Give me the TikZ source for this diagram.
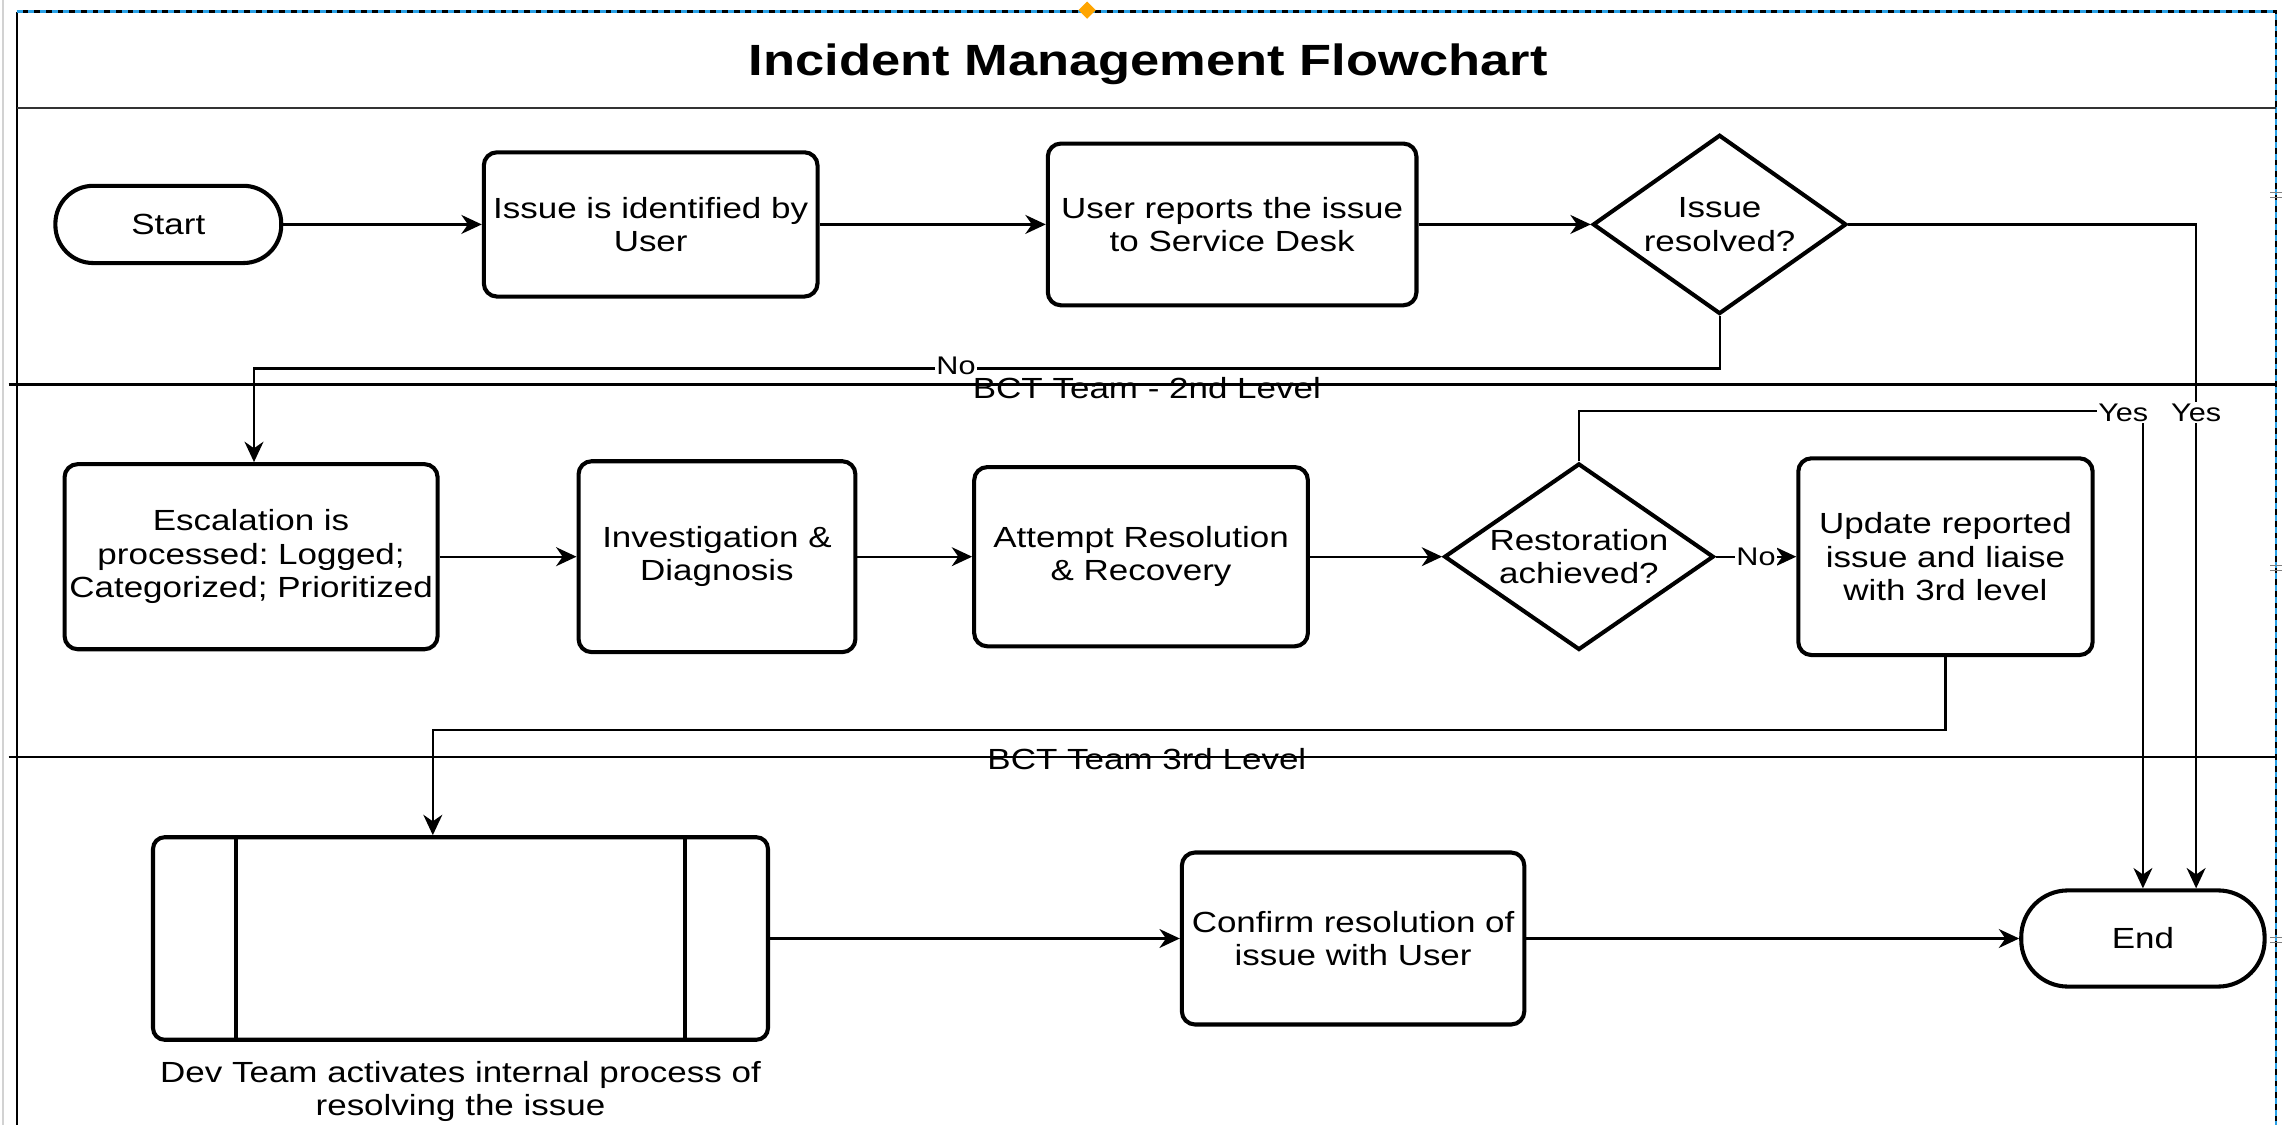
\documentclass[tikz,border=0pt]{standalone}
\usepackage{fontspec}
\setmainfont{Liberation Sans}[FakeStretch=1.2]
\usetikzlibrary{shapes.geometric,arrows.meta}
\definecolor{selblue}{RGB}{41,160,230}
\definecolor{handleorange}{RGB}{255,165,0}
\frenchspacing
\begin{document}
\begin{tikzpicture}[x=1pt,y=-1pt,
  txt/.style={font=\fontsize{20}{23}\selectfont, align=center},
  box/.style={draw, line width=2.8pt, rounded corners=9pt, inner sep=0pt, txt},
  term/.style={draw, line width=2.8pt, inner sep=0pt, txt},
  dec/.style={draw, diamond, line width=2.8pt, inner sep=0pt},
  conn/.style={line width=1.5pt, -{Stealth[length=14pt,width=13pt,inset=4.5pt]}},
  lbl/.style={fill=white, inner sep=1pt, font=\fontsize{17.5}{20}\selectfont},
  lane/.style={line width=1.9pt},
  frame/.style={line width=1.6pt}
]
\useasboundingbox (0,0) rectangle (1568,772);

% frame and lanes
\draw[gray!35, line width=1pt] (2,0) -- (2,772);
\draw[frame] (11.5,8) -- (11.5,772);
\draw[frame] (11.5,8) -- (1562,8) -- (1562,772);
\draw[selblue, line width=1.6pt, dash pattern=on 4pt off 4pt] (11.5,8) -- (1562,8) -- (1562,772);
\draw[frame, black!80] (11.5,74) -- (1562,74);
\draw[lane] (6,264) -- (1562,264);
\draw[lane] (6,519.5) -- (1562,519.5);
\node[diamond, fill=handleorange, inner sep=0pt, minimum size=12pt] (handle) at (746,7) {};
\draw[gray, line width=0.6pt] (1558,132) -- (1566,132) (1558,135.5) -- (1566,135.5);
\draw[gray, line width=0.6pt] (1558,388) -- (1566,388) (1558,391.5) -- (1566,391.5);
\draw[gray, line width=0.6pt] (1558,643) -- (1566,643) (1558,646.5) -- (1566,646.5);

% title
\node[font=\bfseries\fontsize{30}{36}\selectfont] (title) at (788,44) {Incident Management Flowchart};

% lane 1
\node[term, rounded corners=26pt, minimum width=155pt, minimum height=53pt] (start) at (115.5,154) {Start};
\node[box, minimum width=229pt, minimum height=99pt] (issue) at (446.5,154) {Issue is identified by\\User};
\node[box, minimum width=253pt, minimum height=111pt] (user) at (845.5,154) {User reports the issue\\to Service Desk};
\node[dec, minimum width=174pt, minimum height=123pt, label={[txt]center:Issue\\resolved?}] (dec1) at (1180,154) {};

% lane 2
\node[box, minimum width=256pt, minimum height=127pt] (esc) at (172.3,382) {Escalation is\\processed: Logged;\\Categorized; Prioritized};
\node[box, minimum width=190pt, minimum height=131pt] (inv) at (492,382) {Investigation \&\\Diagnosis};
\node[box, minimum width=229pt, minimum height=123pt] (att) at (783,382) {Attempt Resolution\\\& Recovery};
\node[dec, minimum width=185pt, minimum height=128pt, label={[txt]center:Restoration\\achieved?}] (rest) at (1083.5,382) {};
\node[box, minimum width=202pt, minimum height=135pt] (upd) at (1335,382) {Update reported\\issue and liaise\\with 3rd level};

% lane 3
\node[box, rounded corners=8pt, minimum width=422pt, minimum height=139pt] (dev) at (316,644) {};
\draw[line width=2.8pt] ([xshift=58.5pt]dev.north west) -- ([xshift=58.5pt]dev.south west);
\draw[line width=2.8pt] ([xshift=-58.5pt]dev.north east) -- ([xshift=-58.5pt]dev.south east);
\node[txt] (devlbl) at (316,749) {Dev Team activates internal process of\\resolving the issue};
\node[box, minimum width=235pt, minimum height=118pt] (conf) at (928.5,644) {Confirm resolution of\\issue with User};
\node[term, rounded corners=32pt, minimum width=167pt, minimum height=66pt] (endn) at (1470.5,644) {End};

% connectors
\draw[conn] (start) -- (issue);
\draw[conn] (issue) -- (user);
\draw[conn] (user) -- (dec1);
\draw[conn] (dec1.east) -| ([xshift=36.5pt]endn.north);
\draw[conn] (dec1.south) -- ++(0,36) -| ([xshift=2pt]esc.north);
\draw[conn] (esc) -- (inv);
\draw[conn] (inv) -- (att);
\draw[conn] (att) -- (rest);
\draw[conn] (rest) -- (upd);
\coordinate (yescorner) at (1470.5,282);
\draw[conn] (rest.north) |- (yescorner) -- (endn.north);
\draw[conn] (upd.south) -- ++(0,50) -| ([xshift=-19pt]dev.north);
\draw[conn] (dev) -- (conf);
\draw[conn] (conf) -- (endn);

% labels
\node[lbl] (yes1) at (1507,283) {Yes};
\node[lbl] (yes2) at (1457,283) {Yes};
\node[lbl] (no1) at (656,251) {No};
\node[lbl] (no2) at (1205,382) {No};
\node[txt] (lane2) at (787,266) {BCT Team - 2nd Level};
\node[txt] (lane3) at (787,521) {BCT Team 3rd Level};
\end{tikzpicture}
\end{document}
